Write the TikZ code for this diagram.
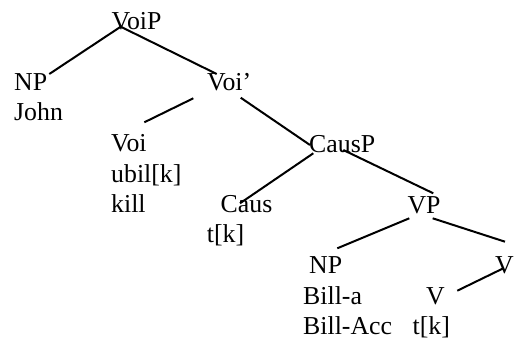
\documentclass[tikz,border=0pt]{standalone}
\usepackage{fontspec}
\setmainfont{Liberation Serif}
\begin{document}
\begin{tikzpicture}[x=1pt,y=-1pt,
  lbl/.style={anchor=base west,inner sep=0pt,font=\fontsize{25.8}{30}\selectfont},
  branch/.style={line width=2pt}]
\useasboundingbox (0,0) rectangle (514,341);
% labels
\node[lbl] (voip) at (111.5,29) {VoiP};
\node[lbl] (np1) at (14,90) {NP};
\node[lbl] (john) at (14,120) {John};
\node[lbl] (voibar) at (207,90) {Voi’};
\node[lbl] (voi) at (111,151) {Voi};
\node[lbl] (ubil) at (111,182) {ubil[k]};
\node[lbl] (kill) at (111,212.5) {kill};
\node[lbl] (caus) at (220.5,212.5) {Caus};
\node[lbl] (tk1) at (206.7,242.5) {t[k]};
\node[lbl] (causp) at (309,152) {CausP};
\node[lbl] (vp) at (407.3,213) {VP};
\node[lbl] (np2) at (309,273.5) {NP};
\node[lbl] (vr) at (495,273.5) {V};
\node[lbl] (billa) at (303,304) {Bill-a};
\node[lbl] (vm) at (426,304.5) {V};
\node[lbl] (billacc) at (303,334.5) {Bill-Acc};
\node[lbl] (tk2) at (412.5,334.5) {t[k]};
% connector end points
\coordinate (voipB) at (120.7,26.7);
\coordinate (np1T) at (49.3,74);
\coordinate (voibarT) at (216.7,74);
\coordinate (voibarL) at (193.3,98.3);
\coordinate (voiT) at (144.3,122.3);
\coordinate (voibarR) at (240.7,97.7);
\coordinate (causpT) at (310,145);
\coordinate (causpL) at (313.3,153.3);
\coordinate (causT) at (240,203.3);
\coordinate (causpR) at (343.3,150);
\coordinate (vpT) at (433.3,193.3);
\coordinate (vpL) at (409.3,218.3);
\coordinate (np2T) at (337.3,248.3);
\coordinate (vpR) at (432.7,218.3);
\coordinate (vrT) at (505,241.7);
\coordinate (vmR) at (457.3,290.7);
\coordinate (vrB) at (503.3,268.3);
% branches
\draw[branch] (voipB) -- (np1T);
\draw[branch] (voipB) -- (voibarT);
\draw[branch] (voibarL) -- (voiT);
\draw[branch] (voibarR) -- (causpT);
\draw[branch] (causpL) -- (causT);
\draw[branch] (causpR) -- (vpT);
\draw[branch] (vpL) -- (np2T);
\draw[branch] (vpR) -- (vrT);
\draw[branch] (vmR) -- (vrB);
\end{tikzpicture}
\end{document}
